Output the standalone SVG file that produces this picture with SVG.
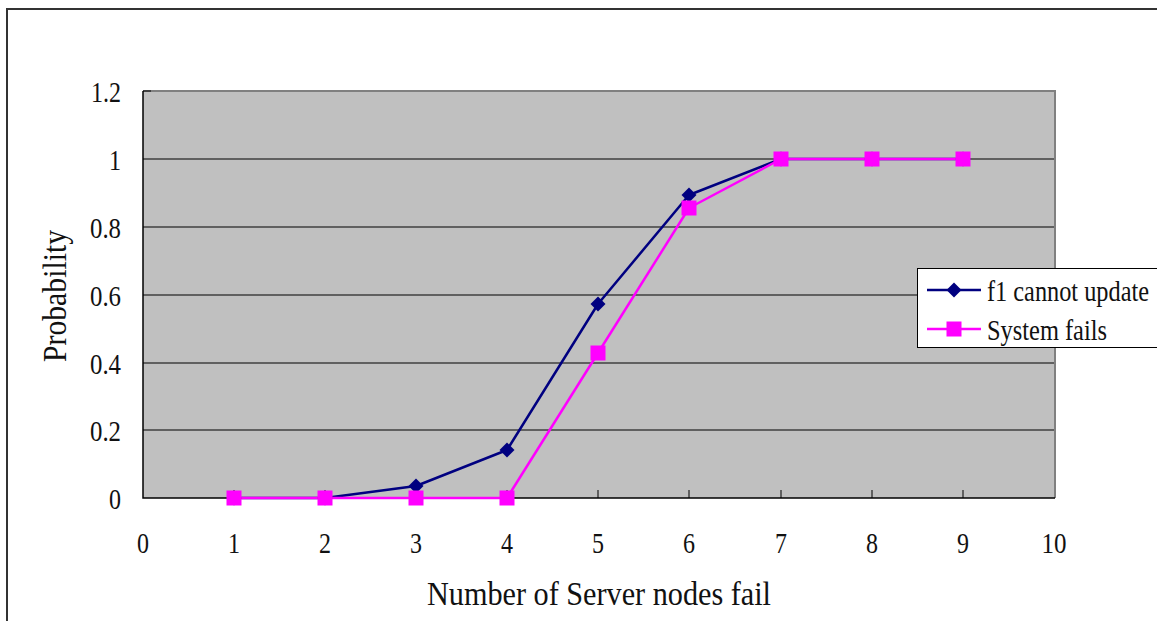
<svg xmlns="http://www.w3.org/2000/svg" width="1157" height="621" viewBox="0 0 1157 621">
  <defs>
    <style>
      .lbl { font-family: "Liberation Serif", "Times New Roman", serif; font-size: 30px; fill: #111; }
      .ttl { font-size: 33px; }
      .grid { stroke: #000; stroke-width: 1; }
      .blue { fill: none; stroke: #000080; stroke-width: 2.5; stroke-linejoin: round; }
      .pink { fill: none; stroke: #FF00FF; stroke-width: 2.5; stroke-linejoin: round; }
    </style>
    <path id="dia" d="M0,-7.5 L7.5,0 L0,7.5 L-7.5,0 Z" fill="#000080"/>
    <rect id="sq" x="-7.5" y="-7.5" width="15" height="15" fill="#FF00FF"/>
  </defs>

  <!-- chart frame -->
  <rect width="1157" height="621" fill="#fff"/>
  <path d="M7,621 V9 H1157" fill="none" stroke="#333" stroke-width="2"/>

  <!-- plot area -->
  <g id="plot">
    <rect x="143" y="91" width="912" height="407" fill="#C0C0C0"/>
    <g class="grid">
      <line x1="143" y1="159" x2="1055" y2="159"/>
      <line x1="143" y1="227" x2="1055" y2="227"/>
      <line x1="143" y1="295" x2="1055" y2="295"/>
      <line x1="143" y1="363" x2="1055" y2="363"/>
      <line x1="143" y1="430" x2="1055" y2="430"/>
    </g>
    <path d="M143,91 H1055 V498" fill="none" stroke="#808080" stroke-width="2"/>
    <path d="M143,91 V498 H1055" fill="none" stroke="#000" stroke-width="1.5"/>
    <!-- tick marks -->
    <g stroke="#000" stroke-width="1">
      <line x1="143" y1="91" x2="151" y2="91"/>
      <line x1="234" y1="490" x2="234" y2="498"/>
      <line x1="325" y1="490" x2="325" y2="498"/>
      <line x1="416" y1="490" x2="416" y2="498"/>
      <line x1="507" y1="490" x2="507" y2="498"/>
      <line x1="598" y1="490" x2="598" y2="498"/>
      <line x1="689" y1="490" x2="689" y2="498"/>
      <line x1="781" y1="490" x2="781" y2="498"/>
      <line x1="872" y1="490" x2="872" y2="498"/>
      <line x1="963" y1="490" x2="963" y2="498"/>
    </g>
  </g>

  <!-- axis labels -->
  <g id="y-labels" class="lbl" text-anchor="end" lengthAdjust="spacingAndGlyphs">
    <text x="121" y="102" textLength="30" lengthAdjust="spacingAndGlyphs">1.2</text>
    <text x="121" y="170" textLength="12" lengthAdjust="spacingAndGlyphs">1</text>
    <text x="121" y="238" textLength="31" lengthAdjust="spacingAndGlyphs">0.8</text>
    <text x="121" y="306" textLength="31" lengthAdjust="spacingAndGlyphs">0.6</text>
    <text x="121" y="374" textLength="31" lengthAdjust="spacingAndGlyphs">0.4</text>
    <text x="121" y="441" textLength="31" lengthAdjust="spacingAndGlyphs">0.2</text>
    <text x="121" y="509" textLength="12" lengthAdjust="spacingAndGlyphs">0</text>
  </g>
  <g id="x-labels" class="lbl" text-anchor="middle">
    <text x="143" y="553" textLength="12" lengthAdjust="spacingAndGlyphs">0</text>
    <text x="234" y="553" textLength="12" lengthAdjust="spacingAndGlyphs">1</text>
    <text x="325" y="553" textLength="12" lengthAdjust="spacingAndGlyphs">2</text>
    <text x="416" y="553" textLength="12" lengthAdjust="spacingAndGlyphs">3</text>
    <text x="507" y="553" textLength="12" lengthAdjust="spacingAndGlyphs">4</text>
    <text x="598" y="553" textLength="12" lengthAdjust="spacingAndGlyphs">5</text>
    <text x="689" y="553" textLength="12" lengthAdjust="spacingAndGlyphs">6</text>
    <text x="781" y="553" textLength="12" lengthAdjust="spacingAndGlyphs">7</text>
    <text x="872" y="553" textLength="12" lengthAdjust="spacingAndGlyphs">8</text>
    <text x="963" y="553" textLength="12" lengthAdjust="spacingAndGlyphs">9</text>
    <text x="1054" y="553" textLength="25" lengthAdjust="spacingAndGlyphs">10</text>
  </g>
  <text id="x-title" class="lbl ttl" x="599" y="605" text-anchor="middle" textLength="344" lengthAdjust="spacingAndGlyphs">Number of Server nodes fail</text>
  <text id="y-title" class="lbl ttl" x="0" y="0" text-anchor="middle" textLength="132" lengthAdjust="spacingAndGlyphs" transform="translate(66,296) rotate(-90)">Probability</text>

  <!-- data series -->
  <g id="connectors">
    <polyline class="blue" points="234,498 325,498 416,486 507,450 598,304 689,195 781,159 872,159 963,159"/>
    <polyline class="pink" points="234,498 325,498 416,498 507,498 598,353 689,208 781,159 872,159 963,159"/>
  </g>
  <g id="series-f1">
    <use href="#dia" x="234" y="498"/>
    <use href="#dia" x="325" y="498"/>
    <use href="#dia" x="416" y="486"/>
    <use href="#dia" x="507" y="450"/>
    <use href="#dia" x="598" y="304"/>
    <use href="#dia" x="689" y="195"/>
    <use href="#dia" x="781" y="159"/>
    <use href="#dia" x="872" y="159"/>
    <use href="#dia" x="963" y="159"/>
  </g>
  <g id="series-system">
    <use href="#sq" x="234" y="498"/>
    <use href="#sq" x="325" y="498"/>
    <use href="#sq" x="416" y="498"/>
    <use href="#sq" x="507" y="498"/>
    <use href="#sq" x="598" y="353"/>
    <use href="#sq" x="689" y="208"/>
    <use href="#sq" x="781" y="159"/>
    <use href="#sq" x="872" y="159"/>
    <use href="#sq" x="963" y="159"/>
  </g>

  <!-- legend -->
  <g id="legend">
    <rect x="917.5" y="268.5" width="250" height="79" fill="#fff" stroke="#000" stroke-width="1"/>
    <line x1="927" y1="290" x2="981" y2="290" stroke="#000080" stroke-width="2.5"/>
    <use href="#dia" x="954" y="290"/>
    <text class="lbl" x="987" y="301" textLength="162" lengthAdjust="spacingAndGlyphs">f1 cannot update</text>
    <line x1="927" y1="329" x2="981" y2="329" stroke="#FF00FF" stroke-width="2.5"/>
    <use href="#sq" x="954" y="329"/>
    <text class="lbl" x="987" y="340" textLength="120" lengthAdjust="spacingAndGlyphs">System fails</text>
  </g>
</svg>
